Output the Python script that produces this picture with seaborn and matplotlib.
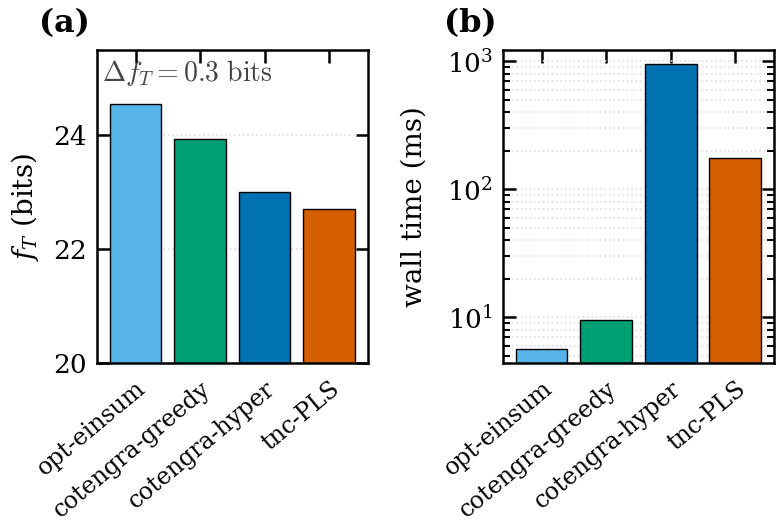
import matplotlib
matplotlib.use("Agg")
import matplotlib.pyplot as plt
from matplotlib.ticker import LogLocator, NullFormatter
import seaborn as sns
import pandas as pd

# data
methods = ["opt-einsum", "cotengra-greedy", "cotengra-hyper", "tnc-PLS"]
f_t_bits = [24.55, 23.93, 23.0, 22.7]
wall_ms = [5.7, 9.5, 950, 175]
colors = ["#56B4E9", "#009E73", "#0072B2", "#D55E00"]

sns.set_theme(style="ticks")
plt.rcParams["font.family"] = ["DejaVu Serif"]
plt.rcParams["mathtext.fontset"] = "dejavuserif"
plt.rcParams.update({
    "font.size": 19,
    "text.color": "black", "axes.labelcolor": "black",
    "axes.linewidth": 1.8,
    "xtick.direction": "in", "ytick.direction": "in",
    "xtick.top": True, "ytick.right": True,
    "xtick.major.size": 9, "ytick.major.size": 9,
    "ytick.minor.size": 5,
    "xtick.major.width": 1.8, "ytick.major.width": 1.8,
    "ytick.minor.width": 1.5,
    "xtick.major.pad": 10, "ytick.major.pad": 7,
    "axes.edgecolor": "black",
    "xtick.color": "black", "ytick.color": "black",
    "xtick.labelsize": 17, "ytick.labelsize": 19,
    "axes.labelsize": 20,
})

df = pd.DataFrame({"method": methods, "f_t": f_t_bits, "wall": wall_ms})
pal = dict(zip(methods, colors))

fig = plt.figure(figsize=(7.81, 5.21), dpi=100)
ax1 = fig.add_axes([0.124, 0.303, 0.347, 0.601])
ax2 = fig.add_axes([0.644, 0.303, 0.347, 0.601])

# panel (a)
ax1.grid(axis="y", which="major", linestyle=":", color="#dddddd", linewidth=1.2)
ax1.set_axisbelow(True)
sns.barplot(data=df, x="method", y="f_t", hue="method", palette=pal, legend=False,
            edgecolor="black", linewidth=1.0, width=0.8, saturation=1, ax=ax1)
ax1.set_ylim(20, 25.5)
ax1.set_yticks([20, 22, 24])
ax1.set_xlim(-0.6, 3.6)
ax1.set_xlabel("")
ax1.set_ylabel(r"$f_T$ (bits)", labelpad=9)
ax1.text(0.02, 0.975, r"$\Delta f_T = 0.3\ \mathrm{bits}$", transform=ax1.transAxes,
         ha="left", va="top", color="#444444", fontsize=20, math_fontfamily="cm")

# panel (b)
ax2.set_yscale("log")
ax2.grid(axis="y", which="both", linestyle=":", color="#dddddd", linewidth=1.2)
ax2.set_axisbelow(True)
sns.barplot(data=df, x="method", y="wall", hue="method", palette=pal, legend=False,
            edgecolor="black", linewidth=1.0, width=0.8, saturation=1, ax=ax2)
ax2.set_ylim(4.4, 1220)
ax2.yaxis.set_major_locator(LogLocator(base=10, numticks=10))
ax2.yaxis.set_minor_locator(LogLocator(base=10, subs=range(2, 10), numticks=20))
ax2.yaxis.set_minor_formatter(NullFormatter())
ax2.set_xlim(-0.6, 3.6)
ax2.set_xlabel("")
ax2.set_ylabel("wall time (ms)", labelpad=14)

for ax in (ax1, ax2):
    plt.setp(ax.get_xticklabels(), rotation=40, ha="right", va="top",
             rotation_mode="anchor")

fig.text(0.05, 0.955, "(a)", fontsize=23, fontweight="bold", ha="left", va="center")
fig.text(0.568, 0.955, "(b)", fontsize=23, fontweight="bold", ha="left", va="center")

fig.savefig("out.png", dpi=100)
